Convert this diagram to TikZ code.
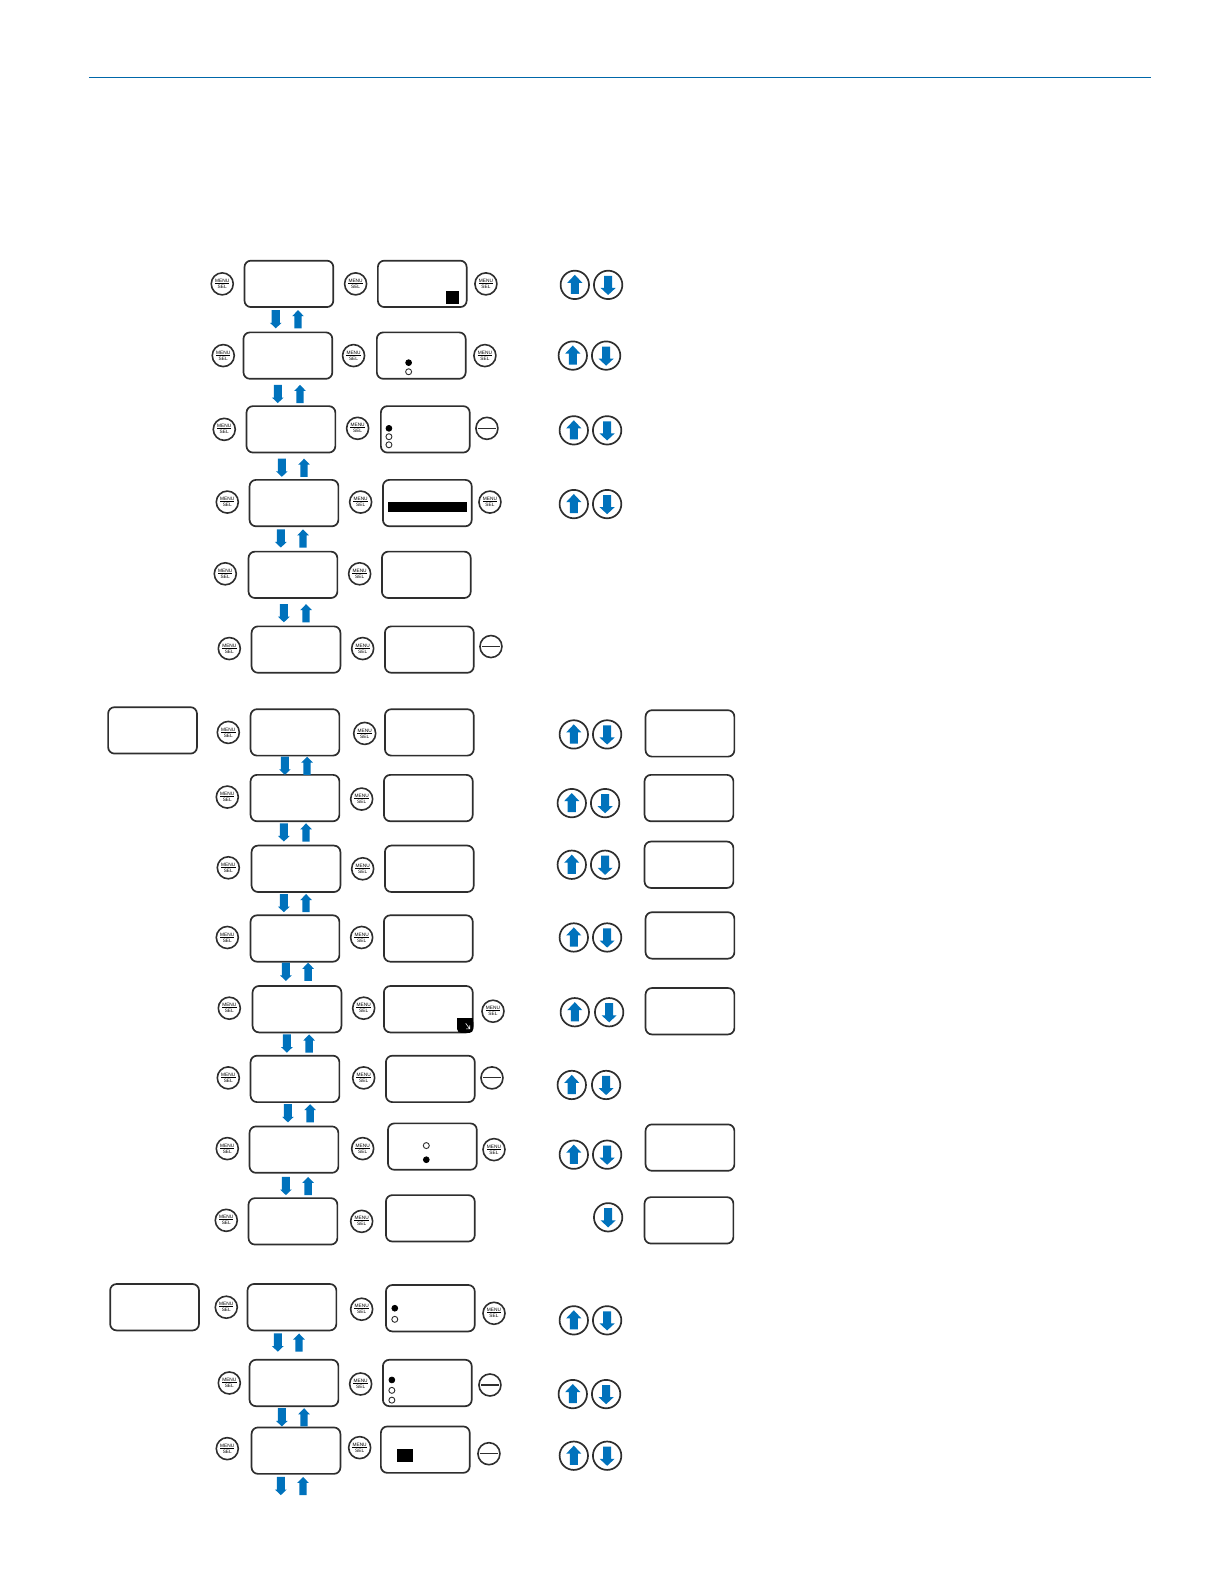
\documentclass[tikz,border=0pt]{standalone}
\usepackage{fontspec}
\setmainfont{Liberation Sans}
\definecolor{flowblue}{HTML}{0072BC}
\definecolor{edge}{HTML}{2E2E2E}
\tikzset{
  x=0.505pt,y=-0.505pt,
  lcd/.style={draw=edge,line width=0.85pt,rounded corners=3.2pt,minimum width=44.4pt,minimum height=23.2pt,inner sep=0pt,fill=white},
  menubtn/.style={circle,draw=edge,line width=0.8pt,minimum size=11pt,inner sep=0pt,align=center,font=\fontsize{2.4}{3.0}\selectfont},
  minusbtn/.style={circle,draw=edge,line width=0.8pt,minimum size=11pt,inner sep=0pt},
  arrowbtn/.style={circle,draw=edge,line width=0.85pt,minimum size=14.2pt,inner sep=0pt},
  dotfull/.style={circle,fill=black,draw=black,line width=0.4pt,minimum size=2.9pt,inner sep=0pt},
  dotopen/.style={circle,fill=white,draw=edge,line width=0.45pt,minimum size=3pt,inner sep=0pt},
  flowfill/.style={fill=flowblue,draw=none},
  blackmark/.style={fill=black,draw=none,inner sep=0pt}
}
\newcommand{\menulabel}{\rlap{\raisebox{-0.55pt}{\rule{7.2pt}{0.3pt}}}\hbox to 7.2pt{\hss MENU\hss}\\SEL}
\begin{document}
\begin{tikzpicture}
\useasboundingbox (0,0) rectangle (1212,1568);
\coordinate (ruleL) at (88,76.5);
\coordinate (ruleR) at (1139,76.5);
\draw[flowblue!90!black,line width=0.5pt] (ruleL) -- (ruleR);

% display boxes
\foreach \n/\x/\y in {
 a1/286/281,a2/285/352,a3/288/425,a4/291/498,a5/290/569,a6/293/643,
 b1/418/281,b2/417/352,b3/421/425,b4/423/498,b5/422/569,b6/425/643,
 oa/151/723,
 c7/292/725,c8/292/790,c9/293/860,c10/292/929,c11/294/999,c12/292/1068,c13/291/1138,c14/290/1209,
 d7/425/725,d8/424/790,d9/425/860,d10/424/929,d11/424/999,d12/426/1068,d13/428/1135,d14/426/1206,
 e7/683/726,e8/682/790,e9/682/856,e10/683/926,e11/683/1001,e13/683/1136,e14/682/1208,
 ob/153/1294,
 f15/289/1294,f16/291/1369,f17/293/1436,
 g15/426/1295,g16/423/1369,g17/421/1435}
 {\node[lcd] (\n) at (\x,\y) {};}

% MENU / SEL buttons
\foreach \n/\x/\y in {
 ml1/220/281,ml2/221/352,ml3/222/425,ml4/225/497,ml5/223/568,ml6/227/642,
 mm1/352/281,mm2/350/352,mm3/354/424,mm4/357/497,mm5/356/568,mm6/359/642,
 mr1/481/281,mr2/480/352,mr4/485/497,
 ml7/226/725,ml8/225/789,ml9/226/859,ml10/225/928,ml11/227/998,ml12/226/1067,ml13/225/1137,ml14/224/1208,
 mm7/361/726,mm8/358/791,mm9/359/860,mm10/358/928,mm11/360/998,mm12/360/1067,mm13/359/1137,mm14/358/1209,
 mr11/488/1001,mr13/489/1138,
 ml15/224/1294,ml16/227/1369,ml17/225/1434,
 mm15/358/1296,mm16/357/1370,mm17/356/1433,
 mr15/489/1300}
 {\node[menubtn] (\n) at (\x,\y) {\menulabel};}

% minus buttons
\foreach \n/\x/\y in {mi3/482/424,mi6/486/640,mi12/487/1067,mi16/485/1371,mi17/484/1439}{
  \node[minusbtn] (\n) at (\x,\y) {};
  \draw[edge,line width=0.55pt] ([xshift=-4.6pt]\n.center) -- ([xshift=4.6pt]\n.center);
}

% up buttons
\foreach \n/\x/\y in {u1/569/282,u2/567/352,u3/568/426,u4/568/499,u7/568/727,u8/566/795,u9/566/856,u10/568/928,u11/569/1002,u12/566/1074,u13/568/1143,u15/568/1307,u16/567/1380,u17/568/1441}{
  \node[arrowbtn] (\n) at (\x,\y) {};
  \fill[flowfill,shift={(\x,\y)}] (0,-10) -- (7.5,-2) -- (4,-2) -- (4,9) -- (-4,9) -- (-4,-2) -- (-7.5,-2) -- cycle;
}
% down buttons
\foreach \n/\x/\y in {v1/602/282,v2/600/352,v3/601/426,v4/601/499,v7/601/727,v8/599/795,v9/599/856,v10/601/928,v11/603/1002,v12/600/1074,v13/601/1143,v14/602/1205,v15/601/1307,v16/600/1380,v17/601/1441}{
  \node[arrowbtn] (\n) at (\x,\y) {};
  \fill[flowfill,shift={(\x,\y)}] (0,10) -- (7.5,3) -- (4,3) -- (4,-9) -- (-4,-9) -- (-4,3) -- (-7.5,3) -- cycle;
}

% free arrows between rows
\foreach \xd/\xu/\y in {273/295/316,275/297/390,279/301/463,278/300/533,281/303/607,
  282/304/758,281/303/824,281/303/894,283/305/962,284/306/1033,285/307/1102,283/305/1174,
  275/296/1329,279/301/1403,278/300/1471}{
  \fill[flowfill,shift={(\xd,\y)}] (0,9) -- (5.8,3.5) -- (4,3.5) -- (4,-9) -- (-4,-9) -- (-4,3.5) -- (-5.8,3.5) -- cycle;
  \fill[flowfill,shift={(\xu,\y)}] (0,-9) -- (5.8,-3) -- (3.6,-3) -- (3.6,9) -- (-3.6,9) -- (-3.6,-3) -- (-5.8,-3) -- cycle;
}

% indicators
\node[dotfull] (db2a) at (404.5,359) {}; \node[dotopen] (db2b) at (404.5,368) {};
\node[dotfull] (db3a) at (385,424) {}; \node[dotopen] (db3b) at (385,432.3) {}; \node[dotopen] (db3c) at (385,440.3) {};
\node[dotopen] (dd13a) at (422,1134) {}; \node[dotfull] (dd13b) at (422,1148) {};
\node[dotfull] (dg15a) at (390.8,1295) {}; \node[dotopen] (dg15b) at (390.8,1306) {};
\node[dotfull] (dg16a) at (387.9,1366) {}; \node[dotopen] (dg16b) at (387.9,1376.3) {}; \node[dotopen] (dg16c) at (387.9,1386) {};

\fill[black] (441.6,288) rectangle (454.6,301);
\fill[black] (384,497) rectangle (462,507);
\fill[black] (393,1434.7) rectangle (409,1447.6);
\fill[black,rounded corners=2pt] (452.5,1008) -- (452.5,1022.5) -- (468.5,1022.5) -- (468.5,1008) -- cycle;
\fill[black] (452.5,1008) rectangle (468.5,1014);
\draw[white,line width=0.3pt] (461,1013) -- (465,1018.5) (465,1015) -- (465,1018.5) -- (461.5,1018.5);
\end{tikzpicture}
\end{document}
